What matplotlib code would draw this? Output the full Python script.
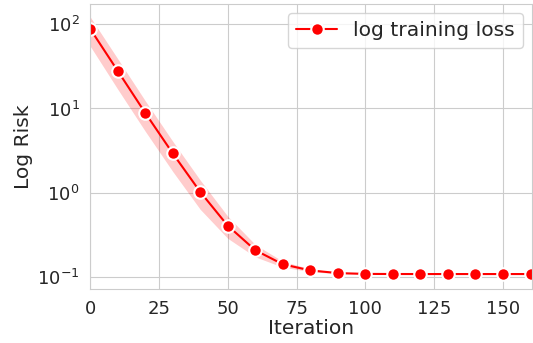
import matplotlib
matplotlib.use('Agg')
import matplotlib.pyplot as plt
import seaborn as sns

# 数据
iterations = [0, 10, 20, 30, 40, 50, 60, 70, 80, 90, 100, 110, 120, 130, 140, 150, 160]
loss_mean = [88, 28, 8.9, 2.95, 1.03, 0.41, 0.21, 0.143, 0.121, 0.1125, 0.1100,
             0.1097, 0.1096, 0.1096, 0.1096, 0.1096, 0.1096]
loss_low = [55, 17, 5.4, 1.8, 0.64, 0.29, 0.175, 0.132, 0.117, 0.1105, 0.1090,
            0.1089, 0.1089, 0.1089, 0.1089, 0.1089, 0.1089]
loss_high = [122, 39, 12.4, 4.1, 1.42, 0.53, 0.245, 0.155, 0.126, 0.1145, 0.1110,
             0.1105, 0.1104, 0.1104, 0.1104, 0.1104, 0.1104]

sns.set_style("whitegrid")
plt.rcParams['font.family'] = ['DejaVu Sans']

fig = plt.figure(figsize=(5.33, 3.43), dpi=100)
ax = fig.add_axes([0.169, 0.157, 0.829, 0.831])

ax.fill_between(iterations, loss_low, loss_high, color='red', alpha=0.2, linewidth=0)
ax.plot(iterations, loss_mean, color='red', lw=1.5, marker='o', markersize=9,
        markeredgecolor='white', markeredgewidth=1.5, label='log training loss')

ax.set_yscale('log')
ax.set_xlim(0, 160.5)
ax.set_ylim(0.0726, 172)
ax.set_xticks([0, 25, 50, 75, 100, 125, 150])
ax.tick_params(labelsize=13, colors='#262626', pad=4)
ax.set_xlabel('Iteration', fontsize=14.6, color='#262626', labelpad=1)
ax.set_ylabel('Log Risk', fontsize=14.6, color='#262626', labelpad=3)
ax.legend(loc='upper right', fontsize=14.6, handlelength=2.0, borderpad=0.4,
          borderaxespad=0.45)

fig.savefig('out.png', dpi=100)
